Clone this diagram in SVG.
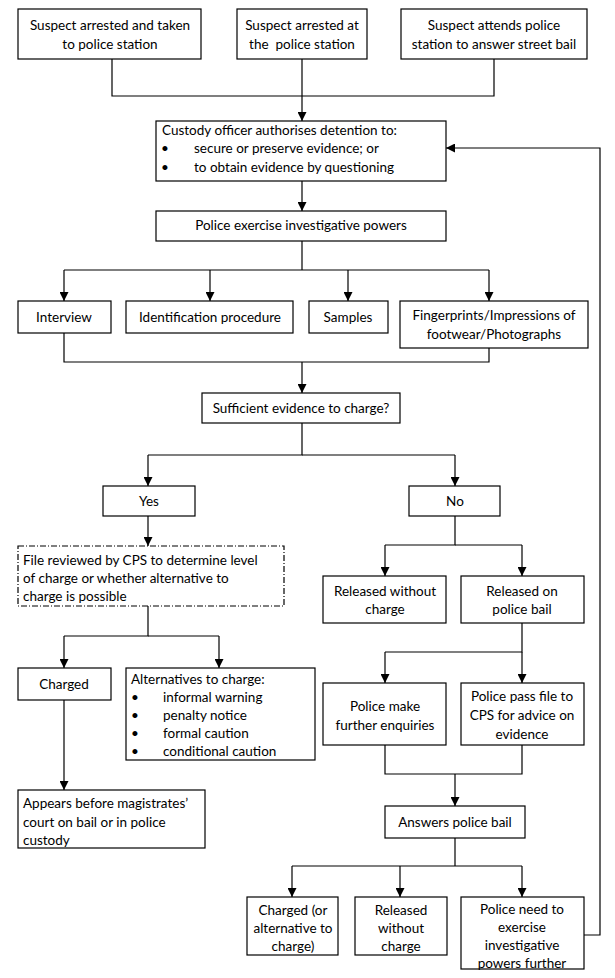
<svg xmlns="http://www.w3.org/2000/svg" width="615" height="978" viewBox="0 0 615 978">
<defs>
<marker id="ah" viewBox="0 0 10 10" refX="10" refY="5" markerWidth="9" markerHeight="9" markerUnits="userSpaceOnUse" orient="auto">
<path d="M0,0 L10,5 L0,10 Z" fill="#000"/>
</marker>
<style>
rect{fill:#fff;stroke:#000;stroke-width:1.2}
rect.dash{stroke-dasharray:6,2,1,2}
text{font-family:Lato,"Liberation Sans",sans-serif;font-size:13.5px;fill:#000}
.c{text-anchor:middle}
#connectors path{fill:none;stroke:#000;stroke-width:1.2}
.a{marker-end:url(#ah)}
</style>
</defs>
<rect x="0" y="0" width="615" height="978" style="fill:#fff;stroke:none"/>
<g id="connectors">
<path d="M112,59 V96 H494 V59"/>
<path class="a" d="M302,59 V121"/>
<path class="a" d="M302,181 V211"/>
<path d="M302,241 V270"/>
<path d="M64,270 H489"/>
<path class="a" d="M64,270 V301"/>
<path class="a" d="M210,270 V301"/>
<path class="a" d="M348,270 V301"/>
<path class="a" d="M489,270 V301"/>
<path d="M64,333 V362 H489 V348"/>
<path class="a" d="M302,362 V393"/>
<path d="M302,423 V455 H148"/>
<path d="M302,455 H455"/>
<path class="a" d="M148,455 V486"/>
<path class="a" d="M455,455 V486"/>
<path class="a" d="M148,516 V546"/>
<path d="M455,516 V545 H385"/>
<path d="M455,545 H522"/>
<path class="a" d="M385,545 V576"/>
<path class="a" d="M522,545 V576"/>
<path d="M148,606 V636 H64"/>
<path d="M148,636 H219"/>
<path class="a" d="M64,636 V668"/>
<path class="a" d="M219,636 V668"/>
<path class="a" d="M64,700 V790"/>
<path d="M522,623 V652 H385"/>
<path class="a" d="M385,652 V683"/>
<path class="a" d="M522,652 V683"/>
<path d="M385,745 V774 H522 V745"/>
<path class="a" d="M455,774 V806"/>
<path d="M455,838 V866"/>
<path d="M292,866 H522"/>
<path class="a" d="M292,866 V897"/>
<path class="a" d="M400,866 V897"/>
<path class="a" d="M522,866 V897"/>
<path class="a" d="M584,935 H600 V148 H446"/>
</g>
<g id="n1"><rect x="18" y="9" width="183" height="50"/><text class="c" x="110" y="30">Suspect arrested and taken</text><text class="c" x="110" y="49">to police station</text></g>
<g id="n2"><rect x="237" y="9" width="130" height="50"/><text class="c" x="302" y="30">Suspect arrested at</text><text class="c" x="302" y="49" xml:space="preserve">the  police station</text></g>
<g id="n3"><rect x="401" y="9" width="186" height="50"/><text class="c" x="494" y="30">Suspect attends police</text><text class="c" x="494" y="49">station to answer street bail</text></g>
<g id="n4"><rect x="156" y="121" width="290" height="60"/><text x="162" y="135">Custody officer authorises detention to:</text><text x="161" y="153">•</text><text x="194" y="153">secure or preserve evidence; or</text><text x="161" y="172">•</text><text x="194" y="172">to obtain evidence by questioning</text></g>
<g id="n5"><rect x="156" y="211" width="290" height="30"/><text class="c" x="301" y="230">Police exercise investigative powers</text></g>
<g id="n6"><rect x="18" y="301" width="93" height="32"/><text class="c" x="64" y="322">Interview</text></g>
<g id="n7"><rect x="126" y="301" width="167" height="32"/><text class="c" x="210" y="322">Identification procedure</text></g>
<g id="n8"><rect x="309" y="301" width="79" height="32"/><text class="c" x="348" y="322">Samples</text></g>
<g id="n9"><rect x="400" y="301" width="188" height="47"/><text class="c" x="494" y="320">Fingerprints/Impressions of</text><text class="c" x="494" y="339">footwear/Photographs</text></g>
<g id="n10"><rect x="202" y="393" width="198" height="30"/><text class="c" x="301" y="413">Sufficient evidence to charge?</text></g>
<g id="n11"><rect x="103" y="486" width="92" height="30"/><text class="c" x="149" y="506">Yes</text></g>
<g id="n12"><rect x="409" y="486" width="91" height="30"/><text class="c" x="455" y="506">No</text></g>
<g id="n13"><rect class="dash" x="18" y="546" width="266" height="60"/><text x="23" y="565">File reviewed by CPS to determine level</text><text x="23" y="583">of charge or whether alternative to</text><text x="23" y="601">charge is possible</text></g>
<g id="n14"><rect x="323" y="576" width="123" height="47"/><text class="c" x="385" y="596">Released without</text><text class="c" x="385" y="614">charge</text></g>
<g id="n15"><rect x="461" y="576" width="123" height="47"/><text class="c" x="522" y="596">Released on</text><text class="c" x="522" y="614">police bail</text></g>
<g id="n16"><rect x="18" y="668" width="93" height="32"/><text class="c" x="64" y="689">Charged</text></g>
<g id="n17"><rect x="126" y="668" width="189" height="92"/><text x="131" y="684">Alternatives to charge:</text><text x="131" y="702">•</text><text x="163" y="702">informal warning</text><text x="131" y="720">•</text><text x="163" y="720">penalty notice</text><text x="131" y="738">•</text><text x="163" y="738">formal caution</text><text x="131" y="756">•</text><text x="163" y="756">conditional caution</text></g>
<g id="n18"><rect x="323" y="683" width="123" height="62"/><text class="c" x="385" y="711">Police make</text><text class="c" x="385" y="730">further enquiries</text></g>
<g id="n19"><rect x="461" y="683" width="123" height="62"/><text class="c" x="522" y="701">Police pass file to</text><text class="c" x="522" y="720">CPS for advice on</text><text class="c" x="522" y="739">evidence</text></g>
<g id="n20"><rect x="18" y="790" width="187" height="58"/><text x="23" y="808">Appears before magistrates’</text><text x="23" y="827">court on bail or in police</text><text x="23" y="845">custody</text></g>
<g id="n21"><rect x="385" y="806" width="140" height="32"/><text class="c" x="455" y="827">Answers police bail</text></g>
<g id="n22"><rect x="247" y="897" width="91" height="58"/><text class="c" x="293" y="915">Charged (or</text><text class="c" x="293" y="933">alternative to</text><text class="c" x="293" y="951">charge)</text></g>
<g id="n23"><rect x="355" y="897" width="92" height="58"/><text class="c" x="401" y="915">Released</text><text class="c" x="401" y="933">without</text><text class="c" x="401" y="951">charge</text></g>
<g id="n24"><rect x="461" y="897" width="123" height="72"/><text class="c" x="522" y="914">Police need to</text><text class="c" x="522" y="932">exercise</text><text class="c" x="522" y="950">investigative</text><text class="c" x="522" y="968">powers further</text></g>
</svg>
